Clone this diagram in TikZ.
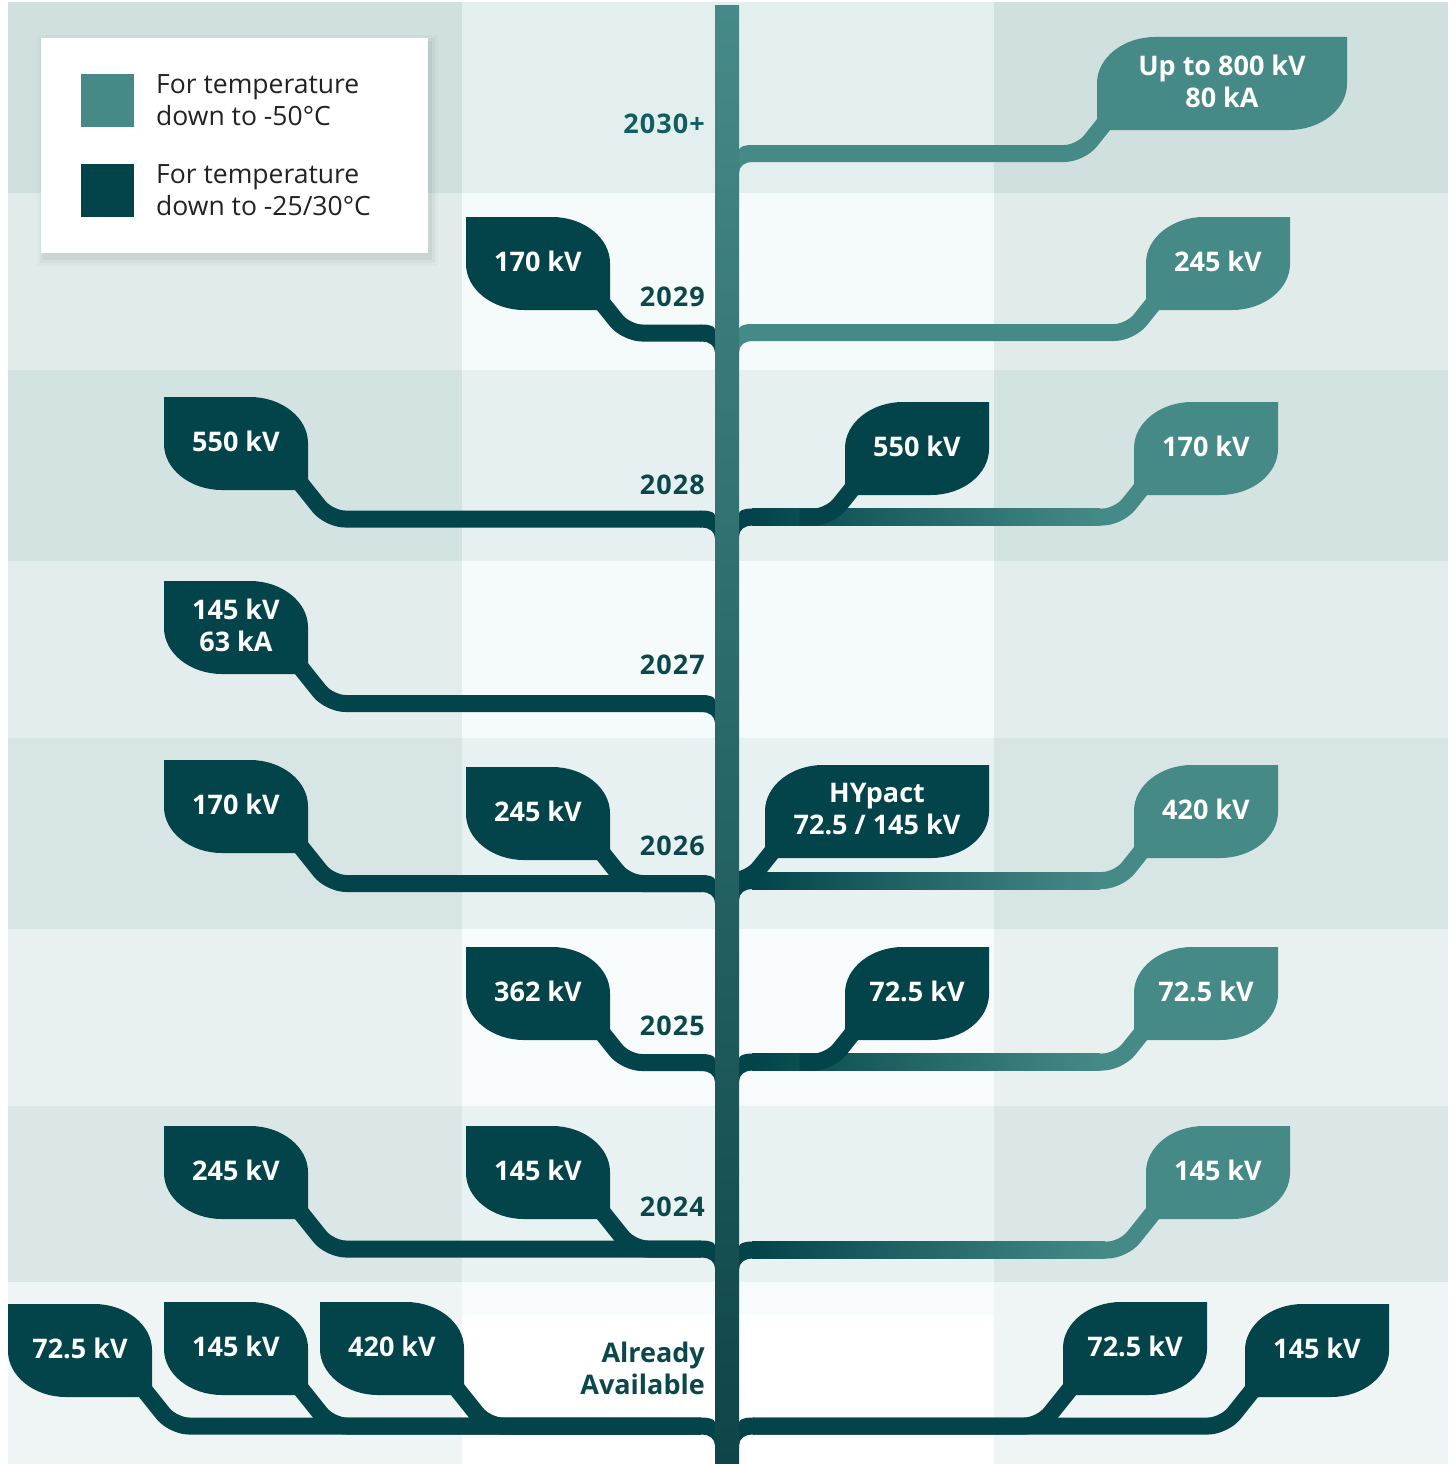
\documentclass[tikz,border=0pt]{standalone}
\usepackage{fontspec}
\setmainfont{Open Sans}
\usetikzlibrary{calc}

% Leaf with square top-left corner, stem leaves at the bottom right
% #1 name, #2 colour, #3 x, #4 y, #5 width, #6 text
\newcommand{\leafL}[6]{%
    \fill[#2] (#3,#4) -- ++({#5-58},0) .. controls +(32,0) and +(0,-25) .. ++(58,46)
        -- ++(0,47) -- ++({58-#5},0) .. controls +(-32,0) and +(0,25) .. ++(-58,-46) -- cycle;
    \coordinate (#1-s) at ({#3+#5-7},{#4+87});
    \node[leaftext] (#1) at ({#3+#5/2},{#4+44}) {#6};
}
% Leaf with square top-right corner, stem leaves at the bottom left
\newcommand{\leafR}[6]{%
    \fill[#2] ({#3+#5},#4) -- ++(0,47) .. controls +(0,25) and +(32,0) .. ++(-58,46)
        -- ++({58-#5},0) -- ++(0,-47) .. controls +(0,-25) and +(-32,0) .. ++(58,-46) -- cycle;
    \coordinate (#1-s) at ({#3+7},{#4+87});
    \node[leaftext] (#1) at ({#3+#5/2},{#4+44}) {#6};
}
% Stems: leaf -> bend -> trunk joint
\newcommand{\stemL}[3]{%
    \draw[branch, #3] let \p1=(#1), \p2=(#2) in (\p1) -- ({\x1+0.8*(\y1-\y2)},\y2) -- (\p2);
}
\newcommand{\stemR}[3]{%
    \draw[branch, #3] let \p1=(#1), \p2=(#2) in (\p1) -- ({\x1-0.8*(\y1-\y2)},\y2) -- (\p2);
}
\newcommand{\twigR}[3]{%
    \draw[branch, #3] let \p1=(#1), \p2=(#2) in (\p1) -- ({\x1-0.8*(\y1-\y2)},\y2) -- ++(-30,0);
}
% Joints where a branch meets the trunk
\newcommand{\jointL}[2]{%
    \fill[#2] (#1) ++(-1,-8.5) -- ++(2,0) .. controls +(8,0) and +(0,-3) .. ++(13,5)
        -- ++(4,0) -- ++(0,23) -- ++(-4,0) .. controls +(0,-7) and +(7,0) .. ++(-13,-11) -- ++(-2,0) -- cycle;
}
\newcommand{\jointR}[2]{%
    \fill[#2] (#1) ++(1,-8.5) -- ++(-2,0) .. controls +(-8,0) and +(0,-3) .. ++(-13,5)
        -- ++(-4,0) -- ++(0,23) -- ++(4,0) .. controls +(0,-7) and +(-7,0) .. ++(13,-11) -- ++(2,0) -- cycle;
}

\begin{document}
\begin{tikzpicture}[x=1pt, y=-1pt,
    branch/.style={line width=17pt, rounded corners=16pt},
    leaftext/.style={text=white, font=\bfseries\fontsize{27}{32}\selectfont, align=center, inner sep=0pt},
    yearlabel/.style={anchor=east, text=yeartext, font=\bfseries\fontsize{27}{32}\selectfont\addfontfeatures{LetterSpace=4}, align=right, inner sep=0pt},
    legendtext/.style={anchor=west, text=legendgray, font=\fontsize{26.5}{32}\selectfont, align=left, inner sep=0pt}]
    % Colors
    \definecolor{leafteal}{HTML}{468A88}
    \definecolor{leafdark}{HTML}{03444A}
    \definecolor{trunktop}{HTML}{468A88}
    \definecolor{trunkbottom}{HTML}{0E4548}
    \definecolor{yeartext}{HTML}{0B474B}
    \definecolor{yearteal}{HTML}{105E5F}
    \definecolor{legendgray}{HTML}{222222}
    \definecolor{bgfade}{HTML}{F7FBFB}

    \useasboundingbox (0,0) rectangle (1453,1464);

    % Background rows (side columns / middle column)
    \foreach \ya/\yb/\cs/\cm in {2/193/CFE0DF/E3EFEE, 193/370/E0EBEA/F5FAFA,
        370/561/D3E3E2/E6F0F0, 561/738/E4EDED/F5FAFA, 738/929/D7E5E4/E8F1F1,
        929/1106/E8F1F0/F7FBFB, 1106/1282/DAE7E6/E9F2F2, 1282/1464/EEF5F4/FFFFFF} {
        \definecolor{bgside}{HTML}{\cs}
        \definecolor{bgmid}{HTML}{\cm}
        \fill[bgside] (8,\ya) rectangle (1448,\yb);
        \fill[bgmid] (462,\ya) rectangle (994,\yb);
    }
    \fill[bgfade] (462,1282) rectangle (994,1315);

    % Legend
    \foreach \d/\op in {9/0.02, 6/0.03, 3/0.045}
        \fill[black, opacity=\op] ({46-\d},{44-\d}) rectangle ({429+\d},{257+\d});
    \fill[white] (41,38) rectangle (428,253);
    \fill[leafteal] (81,74) rectangle (134,127);
    \fill[leafdark] (81,164) rectangle (134,217);
    \node[legendtext] (coldtext) at (156,100) {For temperature\\down to -50°C};
    \node[legendtext] (warmtext) at (156,190) {For temperature\\down to -25/30°C};

    % Leaves, left of the trunk
    \leafL{l2029}{leafdark}{466}{217}{144}{170 kV}
    \leafL{l2028}{leafdark}{164}{397}{144}{550 kV}
    \leafL{l2027}{leafdark}{164}{581}{144}{145 kV\\63 kA}
    \leafL{l2026a}{leafdark}{164}{760}{144}{170 kV}
    \leafL{l2026b}{leafdark}{466}{767}{144}{245 kV}
    \leafL{l2025}{leafdark}{466}{947}{144}{362 kV}
    \leafL{l2024a}{leafdark}{164}{1126}{144}{245 kV}
    \leafL{l2024b}{leafdark}{466}{1126}{144}{145 kV}
    \leafL{l0a}{leafdark}{8}{1304}{144}{72.5 kV}
    \leafL{l0b}{leafdark}{164}{1302}{144}{145 kV}
    \leafL{l0c}{leafdark}{320}{1302}{144}{420 kV}

    % Leaves, right of the trunk
    \leafR{r2030}{leafteal}{1097}{37}{250}{Up to 800 kV\\80 kA}
    \leafR{r2029}{leafteal}{1146}{217}{144}{245 kV}
    \leafR{r2028a}{leafdark}{845}{402}{144}{550 kV}
    \leafR{r2028b}{leafteal}{1134}{402}{144}{170 kV}
    \leafR{r2026a}{leafdark}{765}{765}{224}{HYpact\\72.5 / 145 kV}
    \leafR{r2026b}{leafteal}{1134}{765}{144}{420 kV}
    \leafR{r2025a}{leafdark}{845}{947}{144}{72.5 kV}
    \leafR{r2025b}{leafteal}{1134}{947}{144}{72.5 kV}
    \leafR{r2024}{leafteal}{1146}{1126}{144}{145 kV}
    \leafR{r0a}{leafdark}{1063}{1302}{144}{72.5 kV}
    \leafR{r0b}{leafdark}{1245}{1304}{144}{145 kV}

    % Trunk joints
    \foreach \n/\yy in {2029/333, 2028/519, 2027/703.5, 2026/883.5, 2025/1062.5, 2024/1249, 0/1426}
        \coordinate (jl\n) at (701,\yy);
    \foreach \n/\yy in {2030/153.5, 2029/332.5, 2028/517, 2026/880.5, 2025/1062, 2024/1250, 0/1426}
        \coordinate (jr\n) at (753,\yy);

    % Branches, left
    \stemL{l2029-s}{jl2029}{leafdark}
    \stemL{l2028-s}{jl2028}{leafdark}
    \stemL{l2027-s}{jl2027}{leafdark}
    \stemL{l2026a-s}{jl2026}{leafdark}
    \stemL{l2026b-s}{jl2026}{leafdark}
    \stemL{l2025-s}{jl2025}{leafdark}
    \stemL{l2024a-s}{jl2024}{leafdark}
    \stemL{l2024b-s}{jl2024}{leafdark}
    \stemL{l0a-s}{jl0}{leafdark}
    \stemL{l0b-s}{jl0}{leafdark}
    \stemL{l0c-s}{jl0}{leafdark}

    % Branches, right
    \stemR{r2030-s}{jr2030}{leafteal}
    \stemR{r2029-s}{jr2029}{leafteal}
    \stemR{r2028b-s}{jr2028}{leafteal}
    \stemR{r2026b-s}{jr2026}{leafteal}
    \stemR{r2025b-s}{jr2025}{leafteal}
    \stemR{r2024-s}{jr2024}{leafteal}
    \stemR{r0a-s}{jr0}{leafdark}
    \stemR{r0b-s}{jr0}{leafdark}
    % dark at the trunk, teal at the leaf
    \foreach \yy/\xe in {517/1100, 880.5/1100, 1062/1100, 1250/1105}
        \shade[left color=leafdark, right color=leafteal] (752,{\yy-8.5}) rectangle (\xe,{\yy+8.5});
    \twigR{r2028a-s}{jr2028}{leafdark}
    \twigR{r2026a-s}{jr2026}{leafdark}
    \twigR{r2025a-s}{jr2025}{leafdark}

    \foreach \n in {2029,2028,2027,2026,2025,2024,0}
        \jointL{jl\n}{leafdark};
    \jointR{jr2030}{leafteal}
    \jointR{jr2029}{leafteal}
    \foreach \n in {2028,2026,2025,2024,0}
        \jointR{jr\n}{leafdark};

    % Trunk
    \shade[top color=trunktop, bottom color=trunkbottom] (715,6) rectangle (739,1464);

    % Years
    \node[yearlabel, text=yearteal] (y2030) at (705,124) {2030+};
    \foreach \n/\yy in {2029/297, 2028/485, 2027/665, 2026/846, 2025/1026, 2024/1207}
        \node[yearlabel] (y\n) at (705,\yy) {\n};
    \node[yearlabel, font=\bfseries\fontsize{27}{32}\selectfont] (y0) at (705,1368) {Already\\Available};
\end{tikzpicture}
\end{document}
